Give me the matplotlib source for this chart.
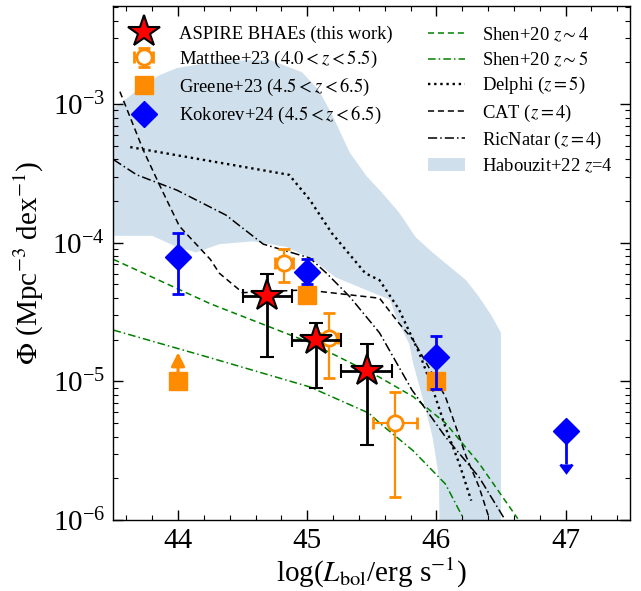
import numpy as np
import matplotlib
matplotlib.use("Agg")
import matplotlib.pyplot as plt
from matplotlib.ticker import MultipleLocator, LogLocator, NullFormatter

plt.rcParams['font.family'] = 'serif'
plt.rcParams['font.serif'] = ['Liberation Serif', 'DejaVu Serif']
plt.rcParams['mathtext.fontset'] = 'stix'

# ---------------- data ----------------
# ASPIRE BHAEs (this work)
aspire_logL = [44.69, 45.07, 45.46]
aspire_xerr = [0.19, 0.19, 0.20]
aspire_phi = [4.1e-5, 2.0e-5, 1.19e-5]
aspire_phi_lo = [1.5e-5, 8.9e-6, 3.5e-6]
aspire_phi_hi = [6.0e-5, 2.63e-5, 1.85e-5]

# Matthee+23
matthee_logL = [44.82, 45.17, 45.68]
matthee_xerr = [0.07, 0.07, 0.17]
matthee_phi = [7.2e-5, 2.06e-5, 5.0e-6]
matthee_phi_lo = [5.2e-5, 1.05e-5, 1.47e-6]
matthee_phi_hi = [9.0e-5, 3.1e-5, 8.45e-6]

# Greene+23
greene_logL = [44.0, 45.0, 46.0]
greene_phi = [1.0e-5, 4.2e-5, 1.0e-5]
greene_lolim = [True, False, False]
greene_arrow_top = [1.62e-5, 4.2e-5, 1.0e-5]

# Kokorev+24
kok_logL = [44.0, 45.0, 46.0, 47.0]
kok_phi = [7.9e-5, 6.2e-5, 1.5e-5, 4.4e-6]
kok_phi_lo = [4.3e-5, 5.0e-5, 8.8e-6, 2.55e-6]
kok_phi_hi = [1.17e-4, 7.6e-5, 2.13e-5, 4.4e-6]
kok_uplim = [False, False, False, True]

# Shen+20 z~4
shen4_logL = [43.50, 44.25, 45.02, 45.56, 45.82, 46.07, 46.33, 46.63]
shen4_logphi = [-4.12, -4.44, -4.72, -4.97, -5.11, -5.30, -5.59, -5.99]
# Shen+20 z~5
shen5_logL = [43.50, 44.25, 45.02, 45.48, 45.56, 45.82, 46.07, 46.21]
shen5_logphi = [-4.63, -4.83, -5.04, -5.23, -5.30, -5.50, -5.74, -5.99]
# Delphi z=5
delphi_logL = [43.63, 44.86, 45.02, 45.19, 45.45, 45.56, 45.71, 45.87, 45.97, 46.07, 46.18, 46.27]
delphi_logphi = [-3.31, -3.51, -3.69, -3.93, -4.22, -4.27, -4.48, -4.80, -5.05, -5.33, -5.60, -5.86]
# CAT z=4
cat_logL = [43.55, 43.73, 43.86, 44.01, 44.25, 44.32, 44.50, 44.99, 45.56, 45.71, 45.82, 46.07, 46.23, 46.33, 46.41]
cat_logphi = [-2.91, -3.33, -3.59, -3.88, -4.12, -4.22, -4.36, -4.34, -4.40, -4.58, -4.70, -5.11, -5.54, -5.76, -5.99]
# RicNatar z=4
ric_logL = [43.50, 43.68, 43.99, 44.37, 44.66, 45.02, 45.15, 45.33, 45.56, 45.81, 46.07, 46.33, 46.52]
ric_logphi = [-3.40, -3.51, -3.62, -3.80, -4.01, -4.11, -4.22, -4.39, -4.65, -5.06, -5.40, -5.69, -5.98]

# Habouzit+22 z=4 band
hab_up_logL = [43.50, 43.63, 43.73, 43.86, 43.99, 44.32, 44.71, 44.96, 45.09, 45.20, 45.33,
               45.46, 45.58, 45.71, 45.84, 45.97, 46.10, 46.23, 46.33, 46.43, 46.50, 46.50]
hab_up_logphi = [-3.03, -2.94, -2.86, -2.79, -2.74, -2.69, -2.68, -2.77, -2.90, -3.09, -3.35,
                 -3.52, -3.64, -3.78, -3.96, -4.07, -4.17, -4.27, -4.39, -4.53, -4.65, -6.5]
hab_lo_logL = [43.50, 43.80, 43.99, 44.14, 44.32, 44.58, 44.84, 45.04, 45.22, 45.48, 45.64,
               45.69, 45.79, 45.82, 45.92, 45.97, 46.02, 46.03]
hab_lo_logphi = [-3.95, -3.95, -4.03, -4.07, -4.01, -3.99, -4.03, -4.12, -4.25, -4.35, -4.41,
                 -4.54, -4.73, -4.87, -5.21, -5.40, -5.69, -6.5]

xticks = [44, 45, 46, 47]

# ---------------- plot ----------------
fig = plt.figure(figsize=(6.41, 5.91), dpi=100)
ax = fig.add_axes([0.177, 0.1201, 0.806, 0.8697])
ax.set_yscale('log')

# band
poly_x = list(hab_up_logL) + list(hab_lo_logL[::-1])
poly_y = list(10 ** np.array(hab_up_logphi)) + list(10 ** np.array(hab_lo_logphi[::-1]))
band = ax.fill(poly_x, poly_y, color='#cfe0ec', lw=0, zorder=1)[0]

# model lines
l_s4, = ax.plot(shen4_logL, 10 ** np.array(shen4_logphi), color='green', ls=(0, (4, 2.5)), lw=1.1, zorder=2)
l_s5, = ax.plot(shen5_logL, 10 ** np.array(shen5_logphi), color='green', ls=(0, (5, 2, 1, 2)), lw=1.1, zorder=2)
l_d, = ax.plot(delphi_logL, 10 ** np.array(delphi_logphi), color='black', ls=(0, (1, 1.6)), lw=1.7, zorder=2)
l_c, = ax.plot(cat_logL, 10 ** np.array(cat_logphi), color='black', ls=(0, (4, 2.5)), lw=1.1, zorder=2)
l_r, = ax.plot(ric_logL, 10 ** np.array(ric_logphi), color='black', ls=(0, (6, 2, 1, 2)), lw=1.1, zorder=2)

orange = '#ff8c00'

# Matthee
m_phi = np.array(matthee_phi)
eb_m = ax.errorbar(matthee_logL, m_phi, xerr=matthee_xerr,
                   yerr=[m_phi - np.array(matthee_phi_lo), np.array(matthee_phi_hi) - m_phi],
                   fmt='o', ms=11, mfc='white', mec=orange, mew=2, color=orange, ecolor=orange,
                   elinewidth=1.6, capsize=4, capthick=1.6, zorder=4)

# Greene
g_line, = ax.plot(greene_logL, greene_phi, 's', ms=13, color=orange, zorder=5)
for gx, gy, gt, lim in zip(greene_logL, greene_phi, greene_arrow_top, greene_lolim):
    if lim:
        ax.annotate('', xy=(gx, gt), xytext=(gx, gy),
                    arrowprops=dict(arrowstyle='-|>', color=orange, lw=2.2,
                                    mutation_scale=20, shrinkA=0, shrinkB=0),
                    zorder=5)

# Kokorev
k_phi = np.array(kok_phi)
eb_k = ax.errorbar(kok_logL, k_phi,
                   yerr=[k_phi - np.array(kok_phi_lo), np.array(kok_phi_hi) - k_phi],
                   uplims=kok_uplim, fmt='D', ms=13, color='blue', ecolor='blue',
                   elinewidth=2, capsize=4, capthick=2, zorder=6)

# ASPIRE
a_phi = np.array(aspire_phi)
eb_a = ax.errorbar(aspire_logL, a_phi, xerr=aspire_xerr,
                   yerr=[a_phi - np.array(aspire_phi_lo), np.array(aspire_phi_hi) - a_phi],
                   fmt='*', ms=24, mfc='red', mec='black', mew=1.5, ecolor='black',
                   elinewidth=2, capsize=5, capthick=2, zorder=7)

ax.set_xlim(43.5, 47.5)
ax.set_ylim(1e-6, 5.1e-3)
ax.set_xticks(xticks)
ax.xaxis.set_minor_locator(MultipleLocator(0.2))
ax.yaxis.set_major_locator(LogLocator(base=10, numticks=20))
ax.yaxis.set_minor_locator(LogLocator(base=10, subs=np.arange(2, 10), numticks=50))
ax.yaxis.set_minor_formatter(NullFormatter())
ax.tick_params(which='both', direction='in', top=True, right=True, labelsize=21)
ax.tick_params(which='major', length=7, width=1.0, pad=6)
ax.tick_params(which='minor', length=3.5, width=0.8)
for s in ax.spines.values():
    s.set_linewidth(1.0)

ax.set_xlabel(r'log($L_{\rm bol}$/erg s$^{-1}$)', fontsize=21)
ax.set_ylabel(r'$\Phi$ (Mpc$^{-3}$ dex$^{-1}$)', fontsize=21)
ax.xaxis.set_label_coords(0.5, -0.07)
ax.yaxis.set_label_coords(-0.13, 0.5)

leg1 = ax.legend([eb_a[0], eb_m, g_line, eb_k[0]],
                 ['ASPIRE BHAEs (this work)', r'Matthee+23 ($4.0<z<5.5$)',
                  r'Greene+23 ($4.5<z<6.5$)', r'Kokorev+24 ($4.5<z<6.5$)'],
                 loc='upper left', bbox_to_anchor=(0.0225, 0.962), frameon=False, fontsize=13.4,
                 handletextpad=0.9, handlelength=2.0, labelspacing=0.32,
                 borderaxespad=0, borderpad=0)
ax.add_artist(leg1)
ax.legend([l_s4, l_s5, l_d, l_c, l_r, band],
          [r'Shen+20 $z\sim4$', r'Shen+20 $z\sim5$', r'Delphi ($z=5$)', r'CAT ($z=4$)',
           r'RicNatar ($z=4$)', r'Habouzit+22 $z$=4'],
          loc='upper right', bbox_to_anchor=(0.967, 0.962), frameon=False, fontsize=13.4,
          handletextpad=0.9, handlelength=2.0, labelspacing=0.32,
          borderaxespad=0, borderpad=0)

fig.savefig('out.png', dpi=100)
